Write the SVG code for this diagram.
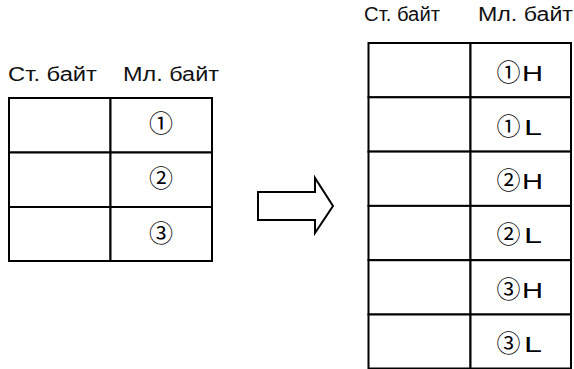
<svg xmlns="http://www.w3.org/2000/svg" width="574" height="369" viewBox="0 0 574 369">
<style>
.cell{fill:#fff;stroke:#000;stroke-width:2}
.hdr{font-family:"Liberation Sans","Noto Sans CJK JP",sans-serif;font-size:20px;fill:#111}
.num{font-family:"Noto Sans CJK JP","Liberation Sans",sans-serif;font-size:24px;fill:#000;text-anchor:middle}
.let{font-family:"Liberation Sans",sans-serif;font-size:22px;fill:#000}
.arrow{fill:#fff;stroke:#000;stroke-width:2;stroke-linejoin:miter}
</style>
<rect width="574" height="369" fill="#fff"/>
<g id="left-table">
<text class="hdr" x="8" y="81" textLength="89" lengthAdjust="spacingAndGlyphs">Ст. байт</text>
<text class="hdr" x="123" y="81" textLength="96" lengthAdjust="spacingAndGlyphs">Мл. байт</text>
<rect class="cell" x="9" y="98" width="101.5" height="54.5"/>
<rect class="cell" x="110.5" y="98" width="101.5" height="54.5"/>
<rect class="cell" x="9" y="152.5" width="101.5" height="54.5"/>
<rect class="cell" x="110.5" y="152.5" width="101.5" height="54.5"/>
<rect class="cell" x="9" y="207" width="101.5" height="54"/>
<rect class="cell" x="110.5" y="207" width="101.5" height="54"/>
<text class="num" x="161" y="132">①</text>
<text class="num" x="161" y="187">②</text>
<text class="num" x="161" y="241.5">③</text>
</g>
<g id="arrow">
<polygon class="arrow" points="258,192 315,192 315,178 333,206 315,233 315,220 258,220"/>
</g>
<g id="right-table">
<text class="hdr" x="364" y="21" textLength="76" lengthAdjust="spacingAndGlyphs">Ст. байт</text>
<text class="hdr" x="478" y="21" textLength="95" lengthAdjust="spacingAndGlyphs">Мл. байт</text>
<rect class="cell" x="368.5" y="43" width="102" height="54.3"/>
<rect class="cell" x="470.5" y="43" width="100.5" height="54.3"/>
<rect class="cell" x="368.5" y="97.3" width="102" height="54.3"/>
<rect class="cell" x="470.5" y="97.3" width="100.5" height="54.3"/>
<rect class="cell" x="368.5" y="151.6" width="102" height="54.3"/>
<rect class="cell" x="470.5" y="151.6" width="100.5" height="54.3"/>
<rect class="cell" x="368.5" y="205.9" width="102" height="54.3"/>
<rect class="cell" x="470.5" y="205.9" width="100.5" height="54.3"/>
<rect class="cell" x="368.5" y="260.2" width="102" height="54.3"/>
<rect class="cell" x="470.5" y="260.2" width="100.5" height="54.3"/>
<rect class="cell" x="368.5" y="314.5" width="102" height="54"/>
<rect class="cell" x="470.5" y="314.5" width="100.5" height="54"/>
<text class="num" x="508.5" y="80.5">①</text><text class="let" x="522" y="80.5" textLength="21" lengthAdjust="spacingAndGlyphs">H</text>
<text class="num" x="508.5" y="134.8">①</text><text class="let" x="524" y="134.8" textLength="18" lengthAdjust="spacingAndGlyphs">L</text>
<text class="num" x="508.5" y="189.1">②</text><text class="let" x="522" y="189.1" textLength="21" lengthAdjust="spacingAndGlyphs">H</text>
<text class="num" x="508.5" y="243.4">②</text><text class="let" x="524" y="243.4" textLength="18" lengthAdjust="spacingAndGlyphs">L</text>
<text class="num" x="508.5" y="297.7">③</text><text class="let" x="522" y="297.7" textLength="21" lengthAdjust="spacingAndGlyphs">H</text>
<text class="num" x="508.5" y="352">③</text><text class="let" x="524" y="352" textLength="18" lengthAdjust="spacingAndGlyphs">L</text>
</g>
</svg>
